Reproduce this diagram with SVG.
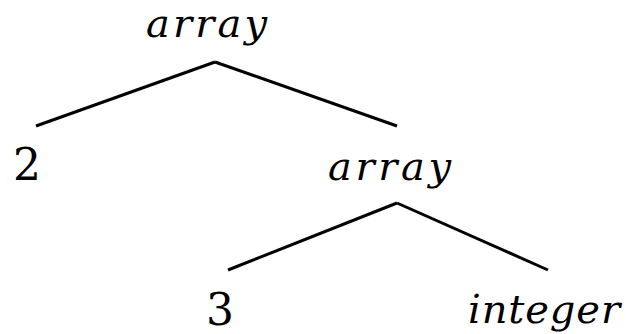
<svg xmlns="http://www.w3.org/2000/svg" width="626" height="334" viewBox="0 0 626 334">
<style>
.m{font-family:"DejaVu Serif","Liberation Serif",serif;font-style:italic;font-size:40px;fill:#000}
.d{font-family:"DejaVu Serif","Liberation Serif",serif;font-size:44px;fill:#000}
.e{stroke:#000;stroke-width:3;fill:none;stroke-linecap:butt}
</style>
<rect width="626" height="334" fill="#fff"/>
<g id="connectors">
<line class="e" x1="215" y1="62" x2="36" y2="126"/>
<line class="e" x1="215" y1="62" x2="397" y2="126"/>
<line class="e" x1="397" y1="203" x2="228" y2="270"/>
<line class="e" x1="397" y1="203" x2="548" y2="270"/>
</g>
<g id="n-array1"><text class="m" x="146" y="37" textLength="121" lengthAdjust="spacing">array</text></g>
<g id="n-2"><text class="d" x="13" y="180">2</text></g>
<g id="n-array2"><text class="m" x="328" y="180" textLength="123" lengthAdjust="spacing">array</text></g>
<g id="n-3"><text class="d" x="206" y="325">3</text></g>
<g id="n-integer"><text class="m" x="468" y="323" textLength="152" lengthAdjust="spacing">integer</text></g>
</svg>
